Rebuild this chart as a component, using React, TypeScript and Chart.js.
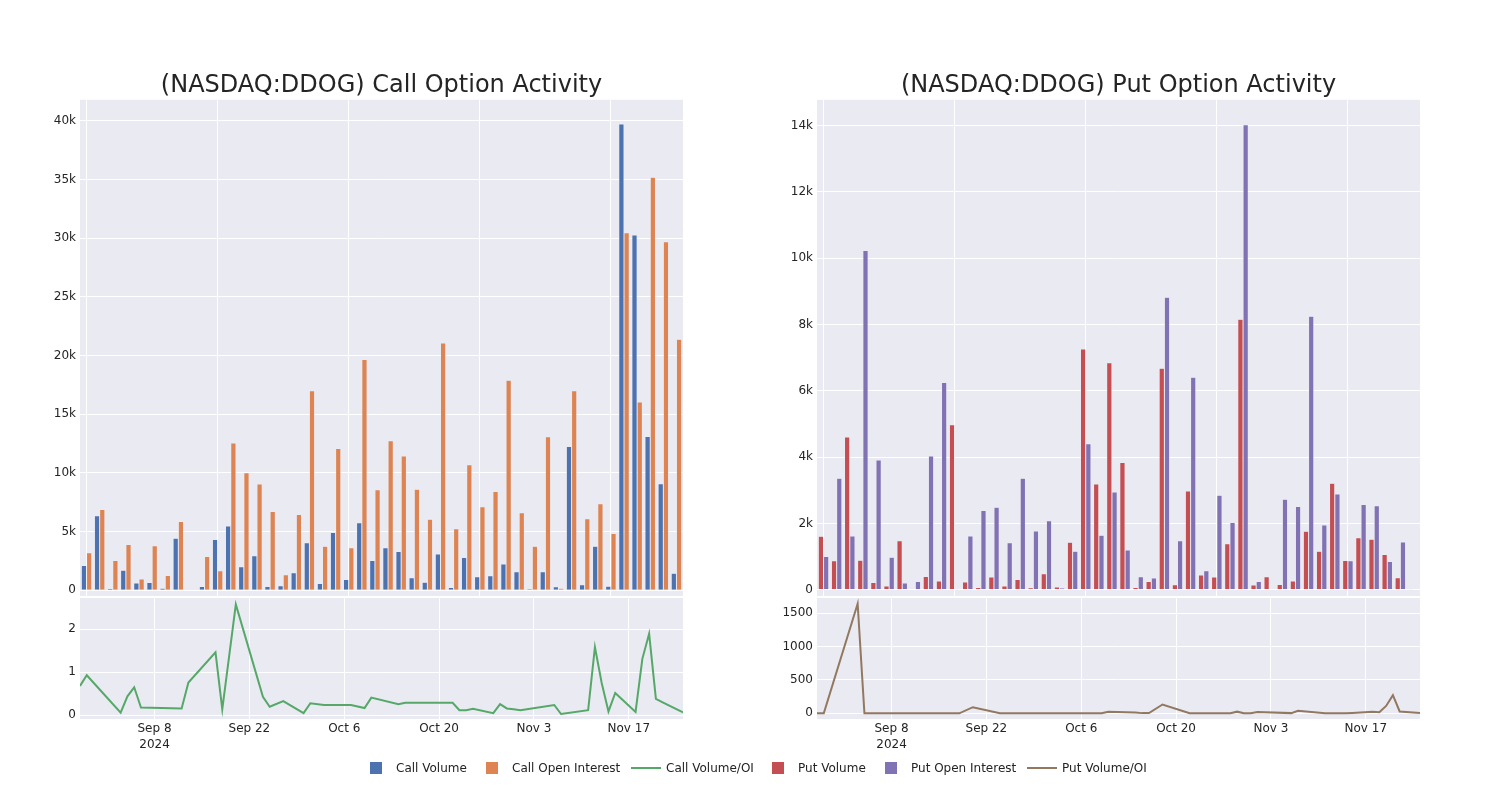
import React, { useEffect, useRef } from "react";
import { Chart, registerables } from "chart.js";

Chart.register(...registerables);

const FONT = "'DejaVu Sans', sans-serif";
const TEXT = "rgb(36,36,36)";
const PLOT_BG = "#EAEAF2";

const dates = [
  "2024-08-28", "2024-08-29", "2024-09-03", "2024-09-04", "2024-09-05", "2024-09-06",
  "2024-09-12", "2024-09-13", "2024-09-17", "2024-09-18", "2024-09-20", "2024-09-24",
  "2024-09-25", "2024-09-27", "2024-09-30", "2024-10-01", "2024-10-03", "2024-10-07",
  "2024-10-09", "2024-10-10", "2024-10-14", "2024-10-15", "2024-10-16", "2024-10-18",
  "2024-10-22", "2024-10-23", "2024-10-24", "2024-10-25", "2024-10-28", "2024-10-29",
  "2024-10-30", "2024-10-31", "2024-11-01", "2024-11-06", "2024-11-07", "2024-11-11",
  "2024-11-12", "2024-11-13", "2024-11-14", "2024-11-15", "2024-11-18", "2024-11-19",
  "2024-11-20", "2024-11-21", "2024-11-22", "2024-11-25",
];

const callVolume = [
  2100, 6340, 140, 1700, 600, 650, 170, 4430, 44, 310, 4320, 5460,
  1990, 2930, 310, 370, 1480, 4030, 570, 4920, 910, 5740, 2530, 3610,
  3300, 1050, 680, 3070, 230, 2790, 1140, 1220, 2220, 1560, 90, 1560,
  280, 12250, 450, 3750, 340, 39740, 30270, 13100, 9070, 1450,
];

const callOpenInterest = [
  3180, 6880, 2530, 3900, 940, 3780, 1250, 5860, 30, 2870, 1650, 12540,
  10000, 9040, 6710, 1320, 6450, 17000, 3750, 12080, 3610, 19670, 8560, 12730,
  11430, 8610, 6050, 21060, 5230, 10690, 7100, 8410, 17900, 6600, 3750, 13080,
  170, 17000, 6080, 7360, 4830, 30470, 16030, 35190, 29700, 21380,
];

const callVolumeOI = [
  0.68, 0.93, 0.06, 0.44, 0.65, 0.18, 0.16, 0.76, 1.46, 0.14, 2.57, 0.43,
  0.2, 0.33, 0.05, 0.28, 0.24, 0.24, 0.17, 0.41, 0.26, 0.29, 0.29, 0.29,
  0.29, 0.12, 0.12, 0.15, 0.05, 0.26, 0.16, 0.14, 0.12, 0.24, 0.03, 0.12,
  1.58, 0.75, 0.09, 0.52, 0.08, 1.31, 1.89, 0.38, 0.3, 0.07,
];

const putVolume = [
  1610, 870, 4610, 890, 220, 110, 1480, 10, 400, 260, 4980, 230,
  70, 380, 110, 310, 60, 480, 80, 1430, 7260, 3190, 6850, 3840,
  70, 250, 6680, 150, 2980, 440, 380, 1390, 8160, 140, 390, 160,
  260, 1760, 1160, 3210, 880, 1570, 1520, 1060, 360, 20,
];

const putOpenInterest = [
  1000, 3360, 1620, 10230, 3910, 980, 200, 250, 4030, 6250, 3, 1620,
  2390, 2490, 1420, 3360, 1770, 2080, 50, 1160, 4400, 1640, 2950, 1200,
  390, 350, 8820, 1480, 6410, 570, 2850, 2030, 14030, 250, 0, 2730,
  2510, 8250, 1950, 2890, 870, 2570, 2530, 850, 1440, 0,
];

const putVolumeOI = [
  0, 0, 1640, 0, 0, 0, 0, 0, 0, 0, 92, 0,
  0, 0, 0, 0, 0, 0, 0, 25, 12, 3, 5, 132,
  0, 0, 0, 0, 0, 25, 0, 2, 18, 3, 38, 0,
  0, 0, 0, 5, 25, 15, 110, 272, 28, 3,
];

const callBarTicks = [0, 5000, 10000, 15000, 20000, 25000, 30000, 35000, 40000];
const putBarTicks = [0, 2000, 4000, 6000, 8000, 10000, 12000, 14000];
const callRatioTicks = [0, 1, 2];
const putRatioTicks = [0, 500, 1000, 1500];
const dateTicks = ["2024-09-08", "2024-09-22", "2024-10-06", "2024-10-20", "2024-11-03", "2024-11-17"];
const MONTHS = ["Jan", "Feb", "Mar", "Apr", "May", "Jun", "Jul", "Aug", "Sep", "Oct", "Nov", "Dec"];

const toMs = (s: string) => Date.parse(s + "T00:00:00Z");
const fmtK = (v: number) => (v === 0 ? "0" : v / 1000 + "k");
const fmtDate = (ms: number, i: number) => {
  const d = new Date(ms);
  const lab = MONTHS[d.getUTCMonth()] + " " + d.getUTCDate();
  return i === 0 ? [lab, String(d.getUTCFullYear())] : lab;
};

const bgPlugin = {
  id: "plotbg",
  beforeDraw(chart: any) {
    const { ctx, chartArea } = chart;
    if (!chartArea) return;
    ctx.save();
    ctx.fillStyle = PLOT_BG;
    ctx.fillRect(chartArea.left, chartArea.top, chartArea.right - chartArea.left, chartArea.bottom - chartArea.top);
    ctx.restore();
  },
};

const tickFont = { family: FONT, size: 12 };

const fitY = (s: any) => {
  s.width = 50;
  s.paddingTop = 0;
  s.paddingBottom = 0;
};

function barConfig(
  title: string,
  s1: number[], s2: number[], n1: string, n2: string, c1: string, c2: string,
  yTicks: number[], yMin: number, yMax: number, padL: number, padR: number
): any {
  return {
    type: "bar",
    data: {
      labels: dates,
      datasets: [
        { label: n1, data: s1, backgroundColor: c1, borderColor: PLOT_BG, borderWidth: 0.5, categoryPercentage: 0.8, barPercentage: 1 },
        { label: n2, data: s2, backgroundColor: c2, borderColor: PLOT_BG, borderWidth: 0.5, categoryPercentage: 0.8, barPercentage: 1 },
      ],
    },
    options: {
      responsive: false,
      animation: false,
      devicePixelRatio: 1,
      layout: { padding: { left: padL, right: padR, top: 0, bottom: 4 }, autoPadding: false },
      plugins: {
        legend: { display: false },
        tooltip: { enabled: false },
        title: {
          display: true,
          text: title,
          fullSize: false,
          color: TEXT,
          font: { family: FONT, size: 24, weight: "normal" },
          padding: { top: 71, bottom: 0 },
        },
      },
      scales: {
        x: {
          offset: true,
          grid: {
            offset: false,
            drawTicks: false,
            lineWidth: 1,
            color: (c: any) => (c.index % 10 === 0 ? "#ffffff" : "rgba(0,0,0,0)"),
          },
          border: { display: false },
          ticks: { display: false, autoSkip: false },
          afterFit: (s: any) => {
            s.height = 0;
            s.paddingLeft = 0;
            s.paddingRight = 0;
          },
        },
        y: {
          min: yMin,
          max: yMax,
          afterBuildTicks: (s: any) => { s.ticks = yTicks.map((v) => ({ value: v })); },
          afterFit: fitY,
          grid: { color: "#ffffff", drawTicks: false, lineWidth: 1 },
          border: { display: false },
          ticks: { padding: 4, color: TEXT, font: tickFont, callback: (v: any) => fmtK(v) },
        },
      },
    },
    plugins: [bgPlugin],
  };
}

function lineConfig(
  name: string, vals: number[], color: string,
  yTicks: number[], yMin: number, yMax: number, padL: number, padR: number
): any {
  return {
    type: "line",
    data: {
      datasets: [
        {
          label: name,
          data: dates.map((d, i) => ({ x: toMs(d), y: vals[i] })),
          borderColor: color,
          backgroundColor: color,
          borderWidth: 2,
          pointRadius: 0,
          tension: 0,
          fill: false,
        },
      ],
    },
    options: {
      responsive: false,
      animation: false,
      devicePixelRatio: 1,
      layout: { padding: { left: padL, right: padR, top: 8, bottom: 10 }, autoPadding: false },
      plugins: { legend: { display: false }, tooltip: { enabled: false } },
      scales: {
        x: {
          type: "linear",
          min: toMs(dates[0]),
          max: toMs(dates[dates.length - 1]),
          afterBuildTicks: (s: any) => { s.ticks = dateTicks.map((d) => ({ value: toMs(d) })); },
          afterFit: (s: any) => {
            s.height = 36;
            s.paddingLeft = 0;
            s.paddingRight = 0;
          },
          grid: { color: "#ffffff", drawTicks: false, lineWidth: 1 },
          border: { display: false },
          ticks: {
            padding: 2,
            color: TEXT,
            font: { family: FONT, size: 12, lineHeight: 1.35 },
            maxRotation: 0,
            autoSkip: false,
            callback: (v: any, i: number) => fmtDate(v, i),
          },
        },
        y: {
          min: yMin,
          max: yMax,
          afterBuildTicks: (s: any) => { s.ticks = yTicks.map((v) => ({ value: v })); },
          afterFit: fitY,
          grid: { color: "#ffffff", drawTicks: false, lineWidth: 1 },
          border: { display: false },
          ticks: { padding: 4, color: TEXT, font: tickFont, callback: (v: any) => String(v) },
        },
      },
    },
    plugins: [bgPlugin],
  };
}

function ChartBox({ config, left, top, width, height }: any) {
  const ref = useRef<HTMLCanvasElement | null>(null);
  useEffect(() => {
    if (!ref.current) return;
    const chart = new Chart(ref.current, config);
    return () => chart.destroy();
  }, [config]);
  return (
    <div style={{ position: "absolute", left, top, width, height }}>
      <canvas ref={ref} width={width} height={height} style={{ width, height, display: "block" }} />
    </div>
  );
}

const COLORS = {
  callVol: "#4C72B0",
  callOI: "#DD8452",
  callRatio: "#55A868",
  putVol: "#C44E52",
  putOI: "#8172B3",
  putRatio: "#937860",
};

const callBar = barConfig(
  "(NASDAQ:DDOG) Call Option Activity",
  callVolume, callOpenInterest, "Call Volume", "Call Open Interest", COLORS.callVol, COLORS.callOI,
  callBarTicks, -500, 41800, 30, 17
);
const putBar = barConfig(
  "(NASDAQ:DDOG) Put Option Activity",
  putVolume, putOpenInterest, "Put Volume", "Put Open Interest", COLORS.putVol, COLORS.putOI,
  putBarTicks, -190, 14780, 27, 20
);
const callLine = lineConfig("Call Volume/OI", callVolumeOI, COLORS.callRatio, callRatioTicks, -0.085, 2.72, 30, 17);
const putLine = lineConfig("Put Volume/OI", putVolumeOI, COLORS.putRatio, putRatioTicks, -85, 1727, 27, 20);

const legendItems = [
  { label: "Call Volume", color: COLORS.callVol, kind: "box", mx: 370, tx: 396 },
  { label: "Call Open Interest", color: COLORS.callOI, kind: "box", mx: 486, tx: 512 },
  { label: "Call Volume/OI", color: COLORS.callRatio, kind: "line", mx: 631, tx: 666 },
  { label: "Put Volume", color: COLORS.putVol, kind: "box", mx: 772, tx: 798 },
  { label: "Put Open Interest", color: COLORS.putOI, kind: "box", mx: 885, tx: 911 },
  { label: "Put Volume/OI", color: COLORS.putRatio, kind: "line", mx: 1027, tx: 1062 },
];

export default function App() {
  return (
    <div style={{ position: "absolute", left: 0, top: 0, width: 1500, height: 800, background: "#fff", overflow: "hidden" }}>
      <ChartBox config={callBar} left={0} top={0} width={700} height={600} />
      <ChartBox config={callLine} left={0} top={590} width={700} height={175} />
      <ChartBox config={putBar} left={740} top={0} width={700} height={600} />
      <ChartBox config={putLine} left={740} top={590} width={700} height={175} />
      {legendItems.map((it) => (
        <React.Fragment key={it.label}>
          {it.kind === "box" ? (
            <div style={{ position: "absolute", left: it.mx, top: 762, width: 12, height: 12, background: it.color }} />
          ) : (
            <div style={{ position: "absolute", left: it.mx, top: 767, width: 30, height: 2, background: it.color }} />
          )}
          <div
            style={{
              position: "absolute",
              left: it.tx,
              top: 760,
              height: 16,
              lineHeight: "16px",
              fontFamily: FONT,
              fontSize: 12,
              color: TEXT,
              whiteSpace: "nowrap",
            }}
          >
            {it.label}
          </div>
        </React.Fragment>
      ))}
    </div>
  );
}
